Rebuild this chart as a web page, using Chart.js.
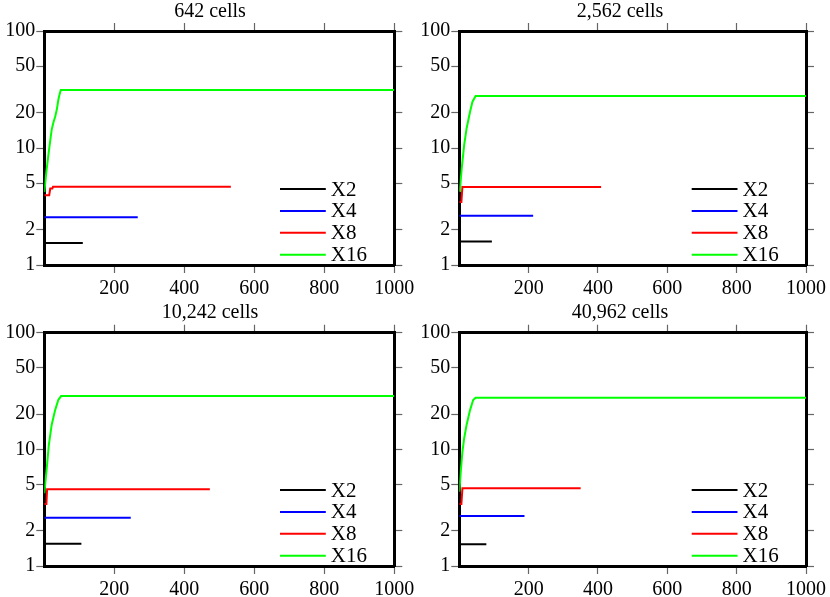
<!DOCTYPE html>
<html>
<head>
<meta charset="utf-8">
<script src="https://cdn.jsdelivr.net/npm/chart.js@4/dist/chart.umd.min.js"></script>
<style>
  html, body { margin: 0; padding: 0; background: #fff; }
  #wrap { position: relative; width: 830px; height: 597px; overflow: hidden; }
  canvas { position: absolute; }
</style>
</head>
<body>
<div id="wrap"></div>
<script>
// Chart data
const panelTitles = ['642 cells', '2,562 cells', '10,242 cells', '40,962 cells'];
const seriesLabels = ['X2', 'X4', 'X8', 'X16'];
const xTicks = [200, 400, 600, 800, 1000];
const yTicks = [1, 2, 5, 10, 20, 50, 100];

// [iteration, value] pairs per panel and series
const c642X2 = [[0, 1.54], [110, 1.54]];
const c642X4 = [[0, 2.56], [267, 2.56]];
const c642X8 = [[0, 3.95], [14, 3.95], [17, 4.5], [23, 4.5], [25, 4.67], [533, 4.67]];
const c642X16 = [[0, 4.2], [6, 6.3], [11, 8.4], [16, 11], [21, 14.3], [26, 16.5], [31, 18.5], [36, 21.5], [40, 25.7], [44, 29], [47, 31.3], [1000, 31.3]];

const c2562X2 = [[0, 1.59], [94, 1.59]];
const c2562X4 = [[0, 2.64], [213, 2.64]];
const c2562X8 = [[0, 3.45], [6, 3.45], [9, 4.65], [409, 4.65]];
const c2562X16 = [[0, 4.3], [2, 4.5], [7, 6.7], [14, 10.6], [21, 14.7], [31, 20.4], [38, 24.9], [47, 27.8], [1000, 27.8]];

const c10242X2 = [[0, 1.55], [106, 1.55]];
const c10242X4 = [[0, 2.59], [247, 2.59]];
const c10242X8 = [[0, 3.4], [6, 3.4], [8, 4.55], [473, 4.55]];
const c10242X16 = [[0, 4.2], [7, 6.9], [13, 10.9], [21, 16.2], [31, 21.7], [40, 26.5], [48, 28.6], [1000, 28.6]];

const c40962X2 = [[0, 1.54], [78, 1.54]];
const c40962X4 = [[0, 2.68], [188, 2.68]];
const c40962X8 = [[0, 3.4], [6, 3.4], [9, 4.63], [350, 4.63]];
const c40962X16 = [[0, 4.33], [5, 6.9], [9, 9.5], [14, 12.4], [21, 16.2], [31, 21.7], [40, 26.5], [47, 27.7], [1000, 27.7]];

const panelSeries = [
  [c642X2, c642X4, c642X8, c642X16],
  [c2562X2, c2562X4, c2562X8, c2562X16],
  [c10242X2, c10242X4, c10242X8, c10242X16],
  [c40962X2, c40962X4, c40962X8, c40962X16]
];

const seriesColors = ['#000000', '#0000ff', '#ff0000', '#00ff00'];

// canvas placement and axis box sizes for each panel
const panelLayout = [
  { left: 0,   top: 0,   w: 420, h: 298, yW: 44.3, y2W: 25.7, titleTop: 2,   topH: 9,    botH: 33 },
  { left: 410, top: 0,   w: 420, h: 298, yW: 49.3, y2W: 20.7, titleTop: 2,   topH: 9,    botH: 33 },
  { left: 0,   top: 300, w: 420, h: 297, yW: 44.3, y2W: 25.7, titleTop: 2.5, topH: 10.2, botH: 31 },
  { left: 410, top: 300, w: 420, h: 297, yW: 49.3, y2W: 20.7, titleTop: 2.5, topH: 10.2, botH: 31 }
];

const FONT = 'Liberation Serif';
const tickGrid = { drawOnChartArea: false, drawTicks: true, tickLength: 8, tickColor: '#666', tickWidth: 1.2 };
const frame = { display: true, color: '#000', width: 3 };

// legend with line samples, drawn inside the plot area
const lineLegend = {
  id: 'lineLegend',
  afterDraw(chart) {
    const { ctx, chartArea } = chart;
    ctx.save();
    chart.data.datasets.forEach((ds, i) => {
      const y = chartArea.bottom - 76 + i * 21.9;
      ctx.strokeStyle = ds.borderColor;
      ctx.lineWidth = 2;
      ctx.beginPath();
      ctx.moveTo(chartArea.right - 114.3, y);
      ctx.lineTo(chartArea.right - 68.5, y);
      ctx.stroke();
      ctx.fillStyle = '#000';
      ctx.font = '21px "' + FONT + '"';
      ctx.textBaseline = 'middle';
      ctx.fillText(ds.label, chartArea.right - 63.5, y + 1);
    });
    ctx.restore();
  }
};

function makePanel(idx) {
  const lay = panelLayout[idx];
  const canvas = document.createElement('canvas');
  canvas.width = lay.w;
  canvas.height = lay.h;
  canvas.style.left = lay.left + 'px';
  canvas.style.top = lay.top + 'px';
  canvas.style.width = lay.w + 'px';
  canvas.style.height = lay.h + 'px';
  document.getElementById('wrap').appendChild(canvas);

  const datasets = panelSeries[idx].map((pts, i) => ({
    label: seriesLabels[i],
    data: pts.map(p => ({ x: p[0], y: p[1] })),
    borderColor: seriesColors[i],
    borderWidth: 2,
    pointRadius: 0,
    tension: 0,
    fill: false
  }));

  return new Chart(canvas.getContext('2d'), {
    type: 'line',
    data: { datasets },
    plugins: [lineLegend],
    options: {
      responsive: false,
      animation: false,
      devicePixelRatio: 1,
      layout: { padding: 0 },
      plugins: {
        legend: { display: false },
        tooltip: { enabled: false },
        title: {
          display: true,
          text: panelTitles[idx],
          color: '#000',
          font: { family: FONT, size: 20, weight: 'normal', lineHeight: 1 },
          padding: { top: lay.titleTop, bottom: 0 }
        }
      },
      scales: {
        x: {
          type: 'linear', position: 'bottom', min: 0, max: 1000,
          afterBuildTicks: s => { s.ticks = xTicks.map(v => ({ value: v })); },
          afterFit: s => { s.height = lay.botH; },
          ticks: { color: '#000', font: { family: FONT, size: 20 }, padding: 4, maxRotation: 0, autoSkip: false, callback: v => String(v) },
          grid: tickGrid,
          border: frame
        },
        x2: {
          type: 'linear', position: 'top', min: 0, max: 1000,
          afterBuildTicks: s => { s.ticks = xTicks.map(v => ({ value: v })); },
          afterFit: s => { s.height = lay.topH; },
          ticks: { display: false },
          grid: tickGrid,
          border: frame
        },
        y: {
          type: 'logarithmic', position: 'left', min: 1, max: 100,
          afterBuildTicks: s => { s.ticks = yTicks.map(v => ({ value: v })); },
          afterFit: s => { s.width = lay.yW; },
          ticks: { color: '#000', font: { family: FONT, size: 20 }, padding: 1, autoSkip: false, callback: v => String(v) },
          grid: tickGrid,
          border: frame
        },
        y2: {
          type: 'logarithmic', position: 'right', min: 1, max: 100,
          afterBuildTicks: s => { s.ticks = yTicks.map(v => ({ value: v })); },
          afterFit: s => { s.width = lay.y2W; },
          ticks: { display: false },
          grid: tickGrid,
          border: frame
        }
      }
    }
  });
}

for (let i = 0; i < 4; i++) makePanel(i);
</script>
</body>
</html>
